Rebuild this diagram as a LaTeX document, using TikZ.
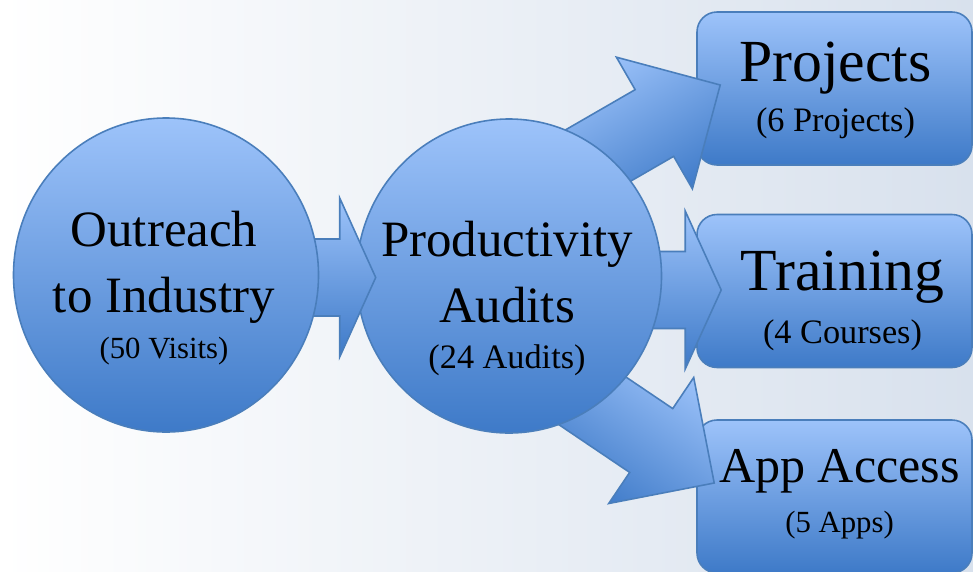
\documentclass[tikz,border=0pt]{standalone}
\usepackage{fontspec}
\setmainfont{Liberation Serif}
\usetikzlibrary{shapes.geometric, calc}

\definecolor{shapetop}{RGB}{157,195,250}
\definecolor{shapebot}{RGB}{62,122,200}
\definecolor{shapeedge}{RGB}{74,126,187}
\definecolor{bgright}{RGB}{216,225,237}

\tikzset{
  stage/.style={ellipse, draw=shapeedge, line width=0.9pt, top color=shapetop,
    bottom color=shapebot, minimum width=61mm, minimum height=62.8mm, inner sep=0pt},
  result/.style={rectangle, rounded corners=4mm, draw=shapeedge, line width=0.9pt,
    top color=shapetop, bottom color=shapebot, minimum width=55mm,
    minimum height=30.6mm, inner sep=0pt},
  flowarrow/.style={draw=shapeedge, line width=0.9pt, top color=shapetop,
    bottom color=shapebot},
  stagetitle/.style={font=\fontsize{29}{37}\selectfont, align=center, inner sep=0pt, anchor=base},
  resulttitle/.style={font=\fontsize{34}{40}\selectfont, inner sep=0pt, anchor=base},
  subtext/.style={font=\fontsize{19.5}{23}\selectfont, inner sep=0pt, anchor=base}
}

% block arrow: tip, angle, head length, head half width, total length
\newcommand{\blockarrow}[5]{%
  \begin{scope}[shift={#1}, rotate=#2]
    \path[flowarrow, shading angle=#2] (0,0) -- (-#3,-#4) -- (-#3,-38.5) -- (-#5,-38.5)
      -- (-#5,38.5) -- (-#3,38.5) -- (-#3,#4) -- cycle;
  \end{scope}}

\begin{document}
\begin{tikzpicture}[x=0.2mm, y=-0.2mm]
  % background
  \shade[left color=white, right color=bgright] (0,0) rectangle (973,571);
  \useasboundingbox (0,0) rectangle (973,571);

  % results
  \node[result] (projects) at (834.5,88.5) {};
  \node[result] (training) at (834.5,291) {};
  \node[result] (apps) at (834.5,496.5) {};

  % arrows out of the audits
  \blockarrow{($(projects.west)+(24,-3.5)$)}{30}{76}{76}{180}
  \blockarrow{($(training.west)+(25,-1)$)}{0}{36}{79}{82}
  \blockarrow{($(apps.west)+(18,-13.5)$)}{-34}{76}{76}{180}

  % stages
  \node[stage] (audits) at (509,276) {};
  \blockarrow{($(audits.west)+(20,1.5)$)}{0}{36}{79.5}{77}
  \node[stage] (outreach) at (166,275) {};

  % texts
  \node[stagetitle] (outreachtxt) at ($(outreach.center)+(-2,37)$) {Outreach\\to Industry};
  \node[subtext, font=\fontsize{17.5}{21}\selectfont] (outreachsub) at ($(outreach.center)+(-2,83)$) {(50 Visits)};
  \node[stagetitle] (auditstxt) at ($(audits.center)+(-2,46)$) {Productivity\\Audits};
  \node[subtext] (auditssub) at ($(audits.center)+(-2,92)$) {(24 Audits)};

  \node[resulttitle] (projectstxt) at ($(projects.center)+(1,-6.5)$) {Projects};
  \node[subtext] (projectssub) at ($(projects.center)+(1,43.5)$) {(6 Projects)};
  \node[resulttitle] (trainingtxt) at ($(training.center)+(8,-1)$) {Training};
  \node[subtext] (trainingsub) at ($(training.center)+(8,52)$) {(4 Courses)};
  \node[resulttitle, font=\fontsize{28.5}{34}\selectfont] (appstxt) at ($(apps.center)+(5,-14.5)$) {App Access};
  \node[subtext, font=\fontsize{17.5}{21}\selectfont] (appssub) at ($(apps.center)+(5,35.5)$) {(5 Apps)};
\end{tikzpicture}
\end{document}
